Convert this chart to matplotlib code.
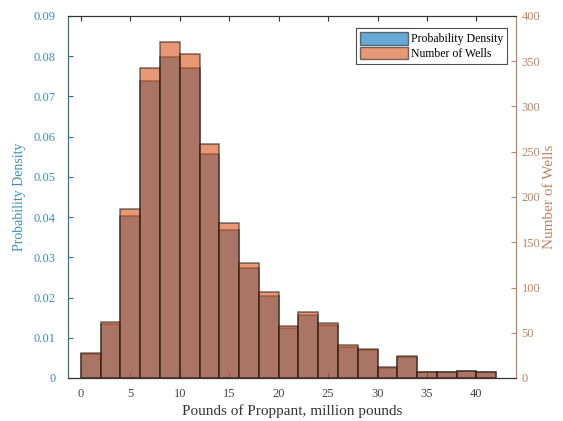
import numpy as np
import matplotlib
matplotlib.use("Agg")
import matplotlib.pyplot as plt
from matplotlib.patches import Patch

plt.rcParams['font.family'] = ['Liberation Serif', 'DejaVu Serif']

bin_edges = np.arange(0, 44, 2)
counts = [28, 62, 187, 343, 371, 358, 259, 171, 127, 95, 58, 73, 61, 36, 32, 12, 24, 7, 7, 8, 7]
bin_width = 2
xticks = [0, 5, 10, 15, 20, 25, 30, 35, 40]
left_ticks = [0, 0.01, 0.02, 0.03, 0.04, 0.05, 0.06, 0.07, 0.08, 0.09]
left_ticklabels = ['0', '0.01', '0.02', '0.03', '0.04', '0.05', '0.06', '0.07', '0.08', '0.09']
right_ticks = [0, 50, 100, 150, 200, 250, 300, 350, 400]

counts_arr = np.array(counts, dtype=float)
density = counts_arr / (counts_arr.sum() * bin_width)

blue = (0.0, 0.447, 0.741)
orange = (0.85, 0.325, 0.098)
left_col = '#3d8db5'
right_col = '#c0825f'

fig = plt.figure(figsize=(5.63, 4.21), dpi=100)
ax = fig.add_axes([68/563, 1-378/421, (516-68)/563, (378-16)/421])
ax2 = ax.twinx()

lefts = bin_edges[:-1]
ax.bar(lefts, density, width=bin_width, align='edge', color=blue, alpha=0.6,
       edgecolor='#1a1a1a', linewidth=1.1)
ax2.bar(lefts, counts_arr, width=bin_width, align='edge', color=orange, alpha=0.6,
        edgecolor='#1a1a1a', linewidth=1.1)

ax.set_xlim(-1.3, 44)
ax.set_ylim(0, 0.09)
ax2.set_ylim(0, 400)
ax.set_xticks(xticks)
ax.set_yticks(left_ticks)
ax.set_yticklabels(left_ticklabels)
ax2.set_yticks(right_ticks)

ax.tick_params(axis='x', direction='in', top=True, length=3.5, pad=7, labelsize=9,
               labelcolor='#444444', color='#333333')
ax.tick_params(axis='y', direction='in', length=3.5, pad=9, labelsize=9,
               labelcolor=left_col, color='#2f6f8f')
ax2.tick_params(axis='y', direction='in', length=3.5, pad=4, labelsize=9,
                labelcolor=right_col, color=right_col)

for a in (ax, ax2):
    a.spines['left'].set_color('#2f6f8f')
    a.spines['right'].set_color(right_col)
    a.spines['top'].set_color('#333333')
    a.spines['bottom'].set_color('#333333')
    for s in a.spines.values():
        s.set_linewidth(0.8)

ax.set_xlabel('Pounds of Proppant, million pounds', fontsize=11, color='#333333', labelpad=3)
ax.set_ylabel('Probability Density', fontsize=10, color=left_col, labelpad=5)
ax2.set_ylabel('Number of Wells', fontsize=11, color=right_col, labelpad=2)

handles = [Patch(facecolor=blue, alpha=0.6, edgecolor='#1a1a1a', linewidth=1.0),
           Patch(facecolor=orange, alpha=0.6, edgecolor='#1a1a1a', linewidth=1.0)]
leg = ax2.legend(handles, ['Probability Density', 'Number of Wells'], loc='upper right',
                 bbox_to_anchor=(0.98, 0.968), fontsize=8.5, frameon=True, fancybox=False,
                 borderpad=0.35, handlelength=4.0, handleheight=1.3, handletextpad=0.25,
                 labelspacing=0.12, borderaxespad=0)
leg.get_frame().set_edgecolor('#222222')
leg.get_frame().set_linewidth(0.8)

fig.savefig('out.png', dpi=100)
